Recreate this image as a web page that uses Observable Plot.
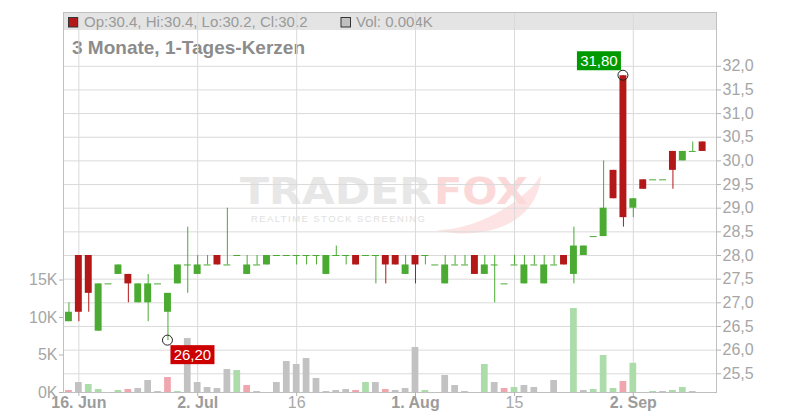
<!DOCTYPE html>
<html><head><meta charset="utf-8">
<script src="https://cdn.jsdelivr.net/npm/d3@7"></script>
<script src="https://cdn.jsdelivr.net/npm/@observablehq/plot@0.6"></script>
<style>
body{margin:0;background:#fff;font-family:"Liberation Sans",Arial,sans-serif;}
#wrap{position:relative;width:800px;height:420px;overflow:hidden;}
#wrap > *{position:absolute;left:0;top:0;}
</style></head><body><div id="wrap"></div>
<script>
// ---- data (trading-day index 0 = 13 Jun ... 64 = 11 Sep) ----
const open  = [26.6,28.0,28.0,26.4,27.4,27.6,27.6,27.0,27.0,27.4,26.8,27.4,27.8,27.6,27.8,28.0,27.8,28.0,27.6,27.8,
               27.8,28.0,28.0,28.0,28.0,28.0,27.6,28.0,28.0,28.0,28.0,28.0,28.0,28.0,27.6,28.0,28.0,27.8,27.4,27.8,
               27.8,28.0,27.6,27.8,27.4,27.8,27.4,27.8,27.4,27.8,28.0,27.6,28.0,28.4,28.4,29.8,31.8,29.0,29.6,29.6,
               29.6,30.2,30.0,30.2,30.4];
const high  = [27.0,28.0,28.0,27.4,27.4,27.8,27.6,27.4,27.6,27.4,27.2,27.8,28.6,28.0,28.0,28.0,29.0,28.0,28.0,28.0,
               28.0,28.0,28.0,28.0,28.0,28.0,28.0,28.2,28.0,28.0,28.0,28.0,28.0,28.0,28.0,28.0,28.0,27.8,28.0,28.0,
               28.0,28.0,28.0,28.0,27.4,28.0,28.0,28.0,28.0,28.0,28.0,28.6,28.2,28.4,30.0,29.8,31.8,29.2,29.6,29.6,
               29.6,30.2,30.2,30.4,30.4];
const low   = [26.6,26.6,26.8,26.4,27.4,27.6,27.0,27.0,26.6,27.4,26.2,27.4,27.2,27.6,27.8,27.8,27.8,28.0,27.6,27.8,
               27.8,28.0,28.0,27.8,27.8,27.8,27.6,28.0,27.8,27.8,28.0,27.4,27.4,27.8,27.6,27.4,27.8,27.8,27.4,27.8,
               27.8,27.6,27.6,27.0,27.4,27.8,27.4,27.8,27.4,27.8,27.8,27.4,28.0,28.4,28.4,29.2,28.6,28.8,29.4,29.6,
               29.6,29.4,30.0,30.2,30.2];
const close = [26.8,26.8,27.2,27.4,27.4,27.8,27.4,27.4,27.4,27.4,27.2,27.8,27.8,27.8,27.8,27.8,27.8,28.0,27.8,27.8,
               28.0,28.0,28.0,28.0,28.0,28.0,28.0,28.0,28.0,27.8,28.0,28.0,27.8,27.8,27.8,27.8,28.0,27.8,27.8,27.8,
               27.8,27.6,27.8,27.8,27.4,27.8,27.8,27.8,27.8,27.8,27.8,28.2,28.2,28.4,29.0,29.2,28.8,29.2,29.4,29.6,
               29.6,29.8,30.2,30.2,30.2];
const volume = [270,1330,1070,400,0,270,400,530,1600,130,2000,130,7200,1330,670,530,3070,2930,930,130,
                0,1330,4130,3730,4530,1870,130,270,400,270,1330,1330,400,270,530,6000,270,0,2270,930,
                130,0,3730,1330,530,670,930,670,0,1600,0,11200,270,400,4930,530,1470,3900,0,130,
                130,270,670,130,4];
const prevClose0 = 27.0;
const tickIdx    = [1,13,23,35,45,57];
const tickLabels = ["16. Jun","2. Jul","16","1. Aug","15","2. Sep"];
const tickBold   = [true,true,false,true,false,true];
const priceTicks = [25.5,26,26.5,27,27.5,28,28.5,29,29.5,30,30.5,31,31.5,32];
const volTicks   = [0,5000,10000,15000];
const titleText  = "3 Monate, 1-Tages-Kerzen";
const legendOHLC = "Op:30.4, Hi:30.4, Lo:30.2, Cl:30.2";
const legendVol  = "Vol: 0.004K";

// ---- colours ----
const UP="#4aaa32", DOWN="#b31717", VUP="#abdcaa", VDOWN="#f0a6ae", VFLAT="#c2c2c2";

const data = open.map((o,i)=>{
  const pc = i===0 ? prevClose0 : close[i-1];
  return {i, o, h:high[i], l:low[i], c:close[i], v:volume[i],
          vc: close[i]>pc ? VUP : close[i]<pc ? VDOWN : VFLAT};
});

const W=800,H=420;
const xOpt = {domain:[-0.55,65.4]};
const base = {width:W,height:H,marginTop:12,marginRight:84,marginBottom:28,marginLeft:63,
  style:{background:"transparent",fontFamily:"Liberation Sans, Arial, sans-serif",overflow:"visible"}};
const yDom=[25.104,33.137];

const wrap = document.getElementById("wrap");

// back layer: band, title, legend, watermark
const back = d3.create("svg").attr("width",W).attr("height",H)
  .attr("font-family","Liberation Sans, Arial, sans-serif");
back.append("rect").attr("x",63).attr("y",12).attr("width",653).attr("height",18).attr("fill","#e4e4e4");
back.append("rect").attr("x",68.5).attr("y",17.5).attr("width",9.5).attr("height",9.5).attr("fill",DOWN).attr("stroke","#333");
back.append("text").attr("x",84).attr("y",26.7).attr("font-size",15).attr("fill","#9a9a9a").text(legendOHLC);
back.append("rect").attr("x",341).attr("y",17.5).attr("width",9.5).attr("height",9.5).attr("fill","#c0c0c0").attr("stroke","#333");
back.append("text").attr("x",356).attr("y",26.7).attr("font-size",15).attr("fill","#9a9a9a").text(legendVol);
back.append("text").attr("x",72).attr("y",54).attr("font-size",19).attr("font-weight","bold").attr("fill","#8c8c8c").text(titleText);
// watermark
back.append("path").attr("d","M436,230 C468,230 500,214 522,196 C532,188 538,180 541,175 C540,196 528,214 508,224 C488,234 460,236 436,230 Z").attr("fill","#fde3e3");
back.append("text").attr("x",240).attr("y",203.5).attr("font-size",37).attr("font-weight","bold")
  .attr("font-family","DejaVu Sans").attr("fill","#e7e7e7").attr("textLength",192).attr("lengthAdjust","spacingAndGlyphs").text("TRADER");
back.append("text").attr("x",434).attr("y",203.5).attr("font-size",37).attr("font-weight","bold")
  .attr("font-family","DejaVu Sans").attr("fill","#fcd9d9").attr("textLength",94).attr("lengthAdjust","spacingAndGlyphs").text("FOX");
back.append("text").attr("x",251).attr("y",222).attr("font-size",9.5)
  .attr("fill","#e0e0e0").attr("textLength",174).attr("lengthAdjust","spacing").text("REALTIME STOCK SCREENING");
wrap.appendChild(back.node());

// grid + axes layer
const boldT = tickIdx.filter((d,k)=>tickBold[k]);
const normT = tickIdx.filter((d,k)=>!tickBold[k]);
const lab = d=>tickLabels[tickIdx.indexOf(d)];
const grid = Plot.plot({...base, x:xOpt, y:{domain:yDom}, marks:[
  Plot.ruleY(priceTicks,{stroke:"#dadada"}),
  Plot.ruleX(tickIdx,{stroke:"#dadada"}),
  Plot.frame({stroke:"#c0c0c0"}),
  Plot.axisY(priceTicks,{anchor:"right",tickSize:4,tickPadding:2,tickFormat:d=>d.toFixed(1).replace(".",","),
    fontSize:16,fill:"#a6a6a6",stroke:"#b4b4b4",label:null}),
  Plot.axisX(tickIdx,{tickSize:4,tickFormat:()=>"",stroke:"#b4b4b4",label:null}),
  Plot.text(boldT,{x:d=>d,frameAnchor:"bottom",dy:15,text:lab,fontSize:16,fontWeight:"bold",fill:"#9c9c9c"}),
  Plot.text(normT,{x:d=>d,frameAnchor:"bottom",dy:15,text:lab,fontSize:16,fill:"#a8a8a8"})
]});
wrap.appendChild(grid);

// volume layer
const vol = Plot.plot({...base, x:{...xOpt, axis:null}, y:{domain:[0,50667]}, marks:[
  Plot.rect(data.filter(d=>d.v>0),{x1:d=>d.i-0.34,x2:d=>d.i+0.34,y1:0,y2:"v",fill:"vc"}),
  Plot.axisY(volTicks,{anchor:"left",tickSize:4,tickPadding:2,tickFormat:d=>(d/1000)+"K",
    fontSize:16,fill:"#a6a6a6",stroke:"#b4b4b4",label:null})
]});
wrap.appendChild(vol);

// price layer
function flag(idx, price, color, above){
  return (index, scales) => {
    const cx = scales.x(idx), cy = scales.y(price);
    const g = d3.create("svg:g");
    const w=44, h=19;
    const bx = above ? cx-2-w : cx+3;
    const by = above ? cy-5-h : cy+5;
    g.append("rect").attr("x",bx).attr("y",by).attr("width",w).attr("height",h).attr("fill",color);
    g.append("text").attr("x",bx+w/2).attr("y",by+h-4.5).attr("text-anchor","middle")
      .attr("fill","#fff").attr("font-size",15).attr("font-family","Liberation Sans, Arial, sans-serif")
      .text(price.toFixed(2).replace(".",","));
    g.append("circle").attr("cx",cx).attr("cy",cy).attr("r",5).attr("fill","none").attr("stroke","#222");
    return g.node();
  };
}
const hiIdx = d3.maxIndex(high), loIdx = d3.minIndex(low);
const price = Plot.plot({...base, x:{...xOpt, axis:null}, y:{domain:yDom, axis:null}, marks:[
  Plot.ruleX(data.filter(d=>d.h>d.l),{x:"i",y1:"l",y2:"h",stroke:d=>d.c>=d.o?UP:DOWN}),
  Plot.rect(data.filter(d=>d.o!==d.c),{x1:d=>d.i-0.35,x2:d=>d.i+0.35,y1:"o",y2:"c",fill:d=>d.c>d.o?UP:DOWN}),
  Plot.ruleY(data.filter(d=>d.o===d.c),{x1:d=>d.i-0.35,x2:d=>d.i+0.35,y:"o",stroke:UP}),
  flag(hiIdx, high[hiIdx], "#009a00", true),
  flag(loIdx, low[loIdx], "#cc0000", false)
]});
wrap.appendChild(price);
</script></body></html>
